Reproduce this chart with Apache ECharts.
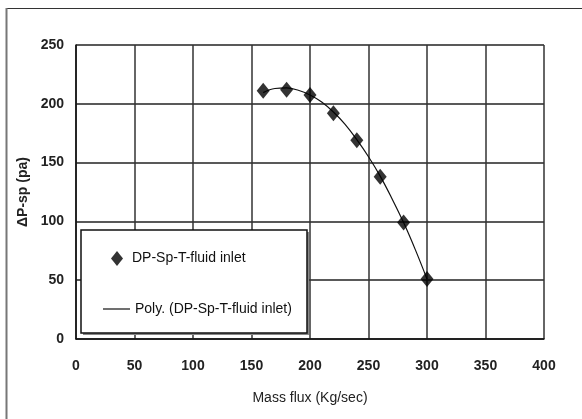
<!DOCTYPE html>
<html>
<head>
<meta charset="utf-8">
<script src="https://cdn.jsdelivr.net/npm/echarts@6/dist/echarts.min.js"></script>
<style>html,body{margin:0;padding:0;background:#fff}#c{width:582px;height:419px}</style>
</head>
<body>
<div id="c"></div>
<script>
var massFlux = [160, 180, 200, 220, 240, 260, 280, 300];
var dpValues = [211, 212, 207.5, 192, 169, 138, 99, 51];
var trendX = [160, 170, 180, 190, 200, 210, 220, 230, 240, 250, 260, 270, 280, 290, 300];
var trendY = [209.5, 213, 213.5, 211.5, 207.5, 201.5, 193, 182.5, 169.5, 155, 138.5, 119.5, 99, 76, 51];
var xTicks = [0, 50, 100, 150, 200, 250, 300, 350, 400];
var yTicks = [0, 50, 100, 150, 200, 250];
var seriesName = 'DP-Sp-T-fluid inlet';
var trendName = 'Poly. (DP-Sp-T-fluid inlet)';
var xTitle = 'Mass flux (Kg/sec)';
var yTitle = '\u0394P-sp (pa)';

var FONT = '"Liberation Sans Narrow", "Liberation Sans", sans-serif';
var chart = echarts.init(document.getElementById('c'), null, {renderer: 'canvas'});
var option = {
  animation: false,
  backgroundColor: '#fff',
  grid: {left: 76, top: 45, right: 38, bottom: 80, containLabel: false},
  xAxis: {
    type: 'value', min: xTicks[0], max: xTicks[xTicks.length - 1], interval: 50,
    name: xTitle, nameLocation: 'middle', nameGap: 52,
    nameTextStyle: {fontFamily: FONT, fontSize: 14, color: '#222'},
    axisLine: {show: true, lineStyle: {color: '#111', width: 1.5}},
    axisTick: {show: false},
    axisLabel: {margin: 20, fontFamily: FONT, fontSize: 14, fontWeight: 'bold', color: '#222'},
    splitLine: {show: true, lineStyle: {color: '#333', width: 1.5}}
  },
  yAxis: {
    type: 'value', min: yTicks[0], max: yTicks[yTicks.length - 1], interval: 50,
    name: yTitle, nameLocation: 'middle', nameGap: 44, nameRotate: 90,
    nameTextStyle: {fontFamily: FONT, fontSize: 14, fontWeight: 'bold', color: '#222'},
    axisLine: {show: true, lineStyle: {color: '#111', width: 1.5}},
    axisTick: {show: false},
    axisLabel: {margin: 12, fontFamily: FONT, fontSize: 14, fontWeight: 'bold', color: '#222'},
    splitLine: {show: true, lineStyle: {color: '#222', width: 1.6}}
  },
  legend: [
    {
      data: [{name: seriesName, icon: 'diamond'}],
      left: 106, top: 246, itemWidth: 12, itemHeight: 15,
      textStyle: {fontFamily: FONT, fontSize: 14, color: '#111', padding: [0, 0, 0, 4]},
      z: 10
    },
    {
      data: [{name: trendName, icon: 'rect'}],
      left: 98, top: 297, itemWidth: 27, itemHeight: 1.2,
      itemStyle: {color: '#111'},
      textStyle: {fontFamily: FONT, fontSize: 14, color: '#111'},
      z: 10
    }
  ],
  graphic: [
    {type: 'line', shape: {x1: 6, y1: 8.5, x2: 582, y2: 8.5}, style: {stroke: '#333', lineWidth: 1.2}, z: 1},
    {type: 'line', shape: {x1: 6.5, y1: 8, x2: 6.5, y2: 419}, style: {stroke: '#777', lineWidth: 2}, z: 1},
    {type: 'rect', shape: {x: 83, y: 232, width: 226, height: 103}, style: {fill: '#888', stroke: null}, z: 5},
    {type: 'rect', shape: {x: 81, y: 230, width: 226, height: 103}, style: {fill: '#fff', stroke: '#111', lineWidth: 1.5}, z: 6}
  ],
  series: [
    {
      name: trendName, type: 'line', smooth: 0.4,
      data: trendX.map(function (x, i) { return [x, trendY[i]]; }),
      showSymbol: false, symbol: 'none',
      lineStyle: {color: '#111', width: 1.2},
      itemStyle: {color: '#111'},
      z: 3
    },
    {
      name: seriesName, type: 'scatter', symbol: 'diamond', symbolSize: [13, 16],
      data: massFlux.map(function (x, i) { return [x, dpValues[i]]; }),
      itemStyle: {color: '#000'},
      z: 4
    }
  ]
};
chart.setOption(option);
</script>
</body>
</html>
